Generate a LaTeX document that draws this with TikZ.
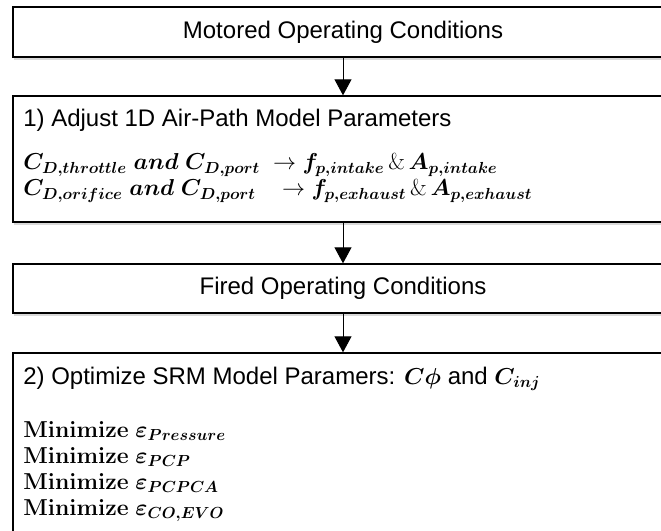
\documentclass[tikz,border=0pt]{standalone}
\usepackage{amsmath,bm}
\usepackage[no-math]{fontspec}
\setmainfont{Liberation Sans}
\usetikzlibrary{arrows.meta,positioning,shadows}

\begin{document}
\begin{tikzpicture}[x=0.75pt,y=-0.75pt,
  box/.style={draw=black,line width=1pt,fill=white,minimum width=495pt,inner sep=0pt,
    font=\fontsize{18}{21}\selectfont,
    drop shadow={shadow xshift=0.8pt,shadow yshift=-2pt,opacity=0.3}},
  flow/.style={-{Triangle[length=12pt,width=12.75pt]},line width=0.75pt},
  txt/.style={anchor=base west,inner sep=0pt,font=\fontsize{18}{21}\selectfont}]
  \useasboundingbox (0,0) rectangle (661,531);
  \clip (0,0) rectangle (661,531);
  % boxes
  \node[box,minimum height=37.5pt] (motored) at (343,32) {Motored Operating Conditions};
  \node[box,minimum height=94.5pt] (adjust) at (343,159) {};
  \node[box,minimum height=36.75pt] (fired) at (343,288.5) {Fired Operating Conditions};
  \node[box,minimum height=180pt] (optim) at (343,473) {};
  % texts in the boxes
  \node[txt] (adjusttitle) at (23,127) {1) Adjust 1D Air-Path Model Parameters};
  \node[txt] (intake) at (23,170) {$\bm{C_{D,throttle}\ and\ C_{D,port}}\ \to \bm{f_{p,intake}}\,\&\,\bm{A_{p,intake}}$};
  \node[txt] (exhaust) at (23,196) {$\bm{C_{D,orifice}\ and\ C_{D,port}}\ \ \ \to \bm{f_{p,exhaust}}\,\&\,\bm{A_{p,exhaust}}$};
  \node[txt] (optimtitle) at (23,384) {2) Optimize SRM Model Paramers: $\bm{C\phi}$ and $\bm{C_{inj}}$};
  \foreach \sub [count=\i from 0] in {Pressure,PCP,PCPCA,{CO,EVO}}
    \node[txt] (min\i) at (23,437+26*\i) {$\mathbf{Minimize}\ \bm{\varepsilon_{\sub}}$};
  % arrows
  \draw[flow] (motored) -- (adjust);
  \draw[flow] (adjust) -- (fired);
  \draw[flow] (fired) -- (optim);
\end{tikzpicture}
\end{document}
